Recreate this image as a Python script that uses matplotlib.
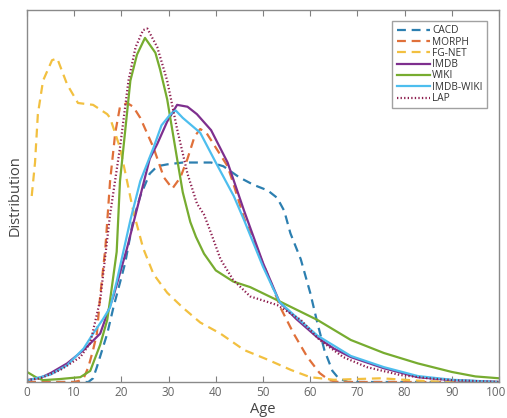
import matplotlib
matplotlib.use("Agg")
import matplotlib.pyplot as plt
import matplotlib.transforms as mtransforms

plt.rcParams['font.family'] = ['Open Sans', 'DejaVu Sans']

# ---- data ----
cacd_age = [0, 13, 14, 14.8, 17, 18.3, 20.8, 22.5, 24, 26, 27.6, 29.7, 33, 36.7, 39, 41.6, 45, 48, 51, 53, 54.5, 55.8, 58, 60, 61.5, 63, 64.7, 66, 68, 100]
cacd_val = [0, 0, 0.01, 0.04, 0.13, 0.2, 0.32, 0.435, 0.5, 0.56, 0.58, 0.585, 0.59, 0.59, 0.59, 0.58, 0.55, 0.53, 0.515, 0.495, 0.46, 0.4, 0.33, 0.24, 0.16, 0.086, 0.03, 0.01, 0, 0]

morph_age = [0, 10, 11, 12, 13, 14, 14.8, 15.5, 16.6, 17.6, 18.7, 19.7, 21.2, 22.5, 24, 26.8, 29, 30.8, 32.5, 34, 35.5, 36.7, 38, 39.5, 42.5, 43.8, 46, 48.8, 51.6, 53.7, 56.5, 59.4, 62, 64, 66, 100]
morph_val = [0, 0, 0.003, 0.01, 0.04, 0.086, 0.13, 0.23, 0.36, 0.54, 0.67, 0.74, 0.75, 0.74, 0.71, 0.63, 0.55, 0.52, 0.55, 0.6, 0.66, 0.68, 0.67, 0.64, 0.58, 0.53, 0.44, 0.355, 0.27, 0.2, 0.13, 0.067, 0.024, 0.005, 0, 0]

fgnet_age = [1, 1.7, 2.3, 3.4, 5.3, 6.4, 8.5, 10.8, 14, 17, 17.6, 19.7, 21.2, 22.5, 24.6, 26.8, 29.7, 33, 36.7, 41, 46, 51, 56, 60, 65, 70, 75, 80, 85, 90, 100]
fgnet_val = [0.5, 0.59, 0.72, 0.81, 0.865, 0.87, 0.80, 0.75, 0.745, 0.72, 0.71, 0.63, 0.54, 0.46, 0.36, 0.29, 0.24, 0.2, 0.16, 0.13, 0.086, 0.06, 0.032, 0.013, 0.006, 0.008, 0.01, 0.006, 0.002, 0, 0]

imdb_age = [0, 3, 5, 8.5, 12, 15.5, 18.3, 21.2, 24, 26, 27.6, 29.7, 31.8, 34, 36, 39, 42.5, 46, 50, 53.5, 57, 61.5, 65, 68.6, 75.6, 82.8, 90, 100]
imdb_val = [0.005, 0.012, 0.024, 0.05, 0.086, 0.13, 0.23, 0.36, 0.5, 0.6, 0.64, 0.70, 0.745, 0.74, 0.72, 0.677, 0.59, 0.46, 0.32, 0.215, 0.17, 0.12, 0.09, 0.067, 0.037, 0.013, 0.005, 0]

wiki_age = [0, 2, 3.4, 7, 11.3, 13.4, 15.5, 17, 17.6, 19, 19.7, 21.9, 23.3, 25, 27.2, 28.2, 29.7, 31.8, 33, 34.6, 35.8, 37.5, 40, 43.7, 47.3, 53, 61.5, 68.6, 75.6, 82.8, 90, 95, 100]
wiki_val = [0.027, 0.012, 0.005, 0.008, 0.013, 0.03, 0.1, 0.167, 0.22, 0.35, 0.54, 0.81, 0.88, 0.925, 0.885, 0.84, 0.76, 0.6, 0.51, 0.43, 0.39, 0.345, 0.30, 0.27, 0.255, 0.22, 0.167, 0.113, 0.078, 0.05, 0.027, 0.015, 0.01]

imdbwiki_age = [0, 5, 8.5, 12, 14, 16, 17.6, 19, 21.9, 24, 26.8, 28.5, 30.4, 31.5, 33, 36.7, 40, 43.8, 46, 50, 53.5, 57, 61.5, 68.6, 75.6, 82.8, 90, 100]
imdbwiki_val = [0.004, 0.02, 0.045, 0.09, 0.13, 0.167, 0.2, 0.27, 0.435, 0.54, 0.63, 0.69, 0.72, 0.73, 0.71, 0.67, 0.59, 0.50, 0.435, 0.31, 0.215, 0.175, 0.125, 0.07, 0.04, 0.016, 0.006, 0]

lap_age = [0, 2.8, 7, 11.3, 13.4, 15.5, 17.6, 19.7, 21.5, 23, 24.6, 25.5, 27.6, 29.7, 31.8, 34, 36, 37.5, 39, 41, 43.7, 47.3, 53, 58, 62, 67, 72, 79, 85, 90, 100]
lap_val = [0.005, 0.01, 0.032, 0.067, 0.105, 0.22, 0.45, 0.63, 0.81, 0.9, 0.946, 0.95, 0.9, 0.81, 0.68, 0.56, 0.48, 0.45, 0.40, 0.33, 0.274, 0.23, 0.207, 0.167, 0.113, 0.067, 0.04, 0.019, 0.01, 0.005, 0]

labels = ['CACD', 'MORPH', 'FG-NET', 'IMDB', 'WIKI', 'IMDB-WIKI', 'LAP']
xticks = [0, 10, 20, 30, 40, 50, 60, 70, 80, 90, 100]

series = [(cacd_age, cacd_val), (morph_age, morph_val), (fgnet_age, fgnet_val),
          (imdb_age, imdb_val), (wiki_age, wiki_val), (imdbwiki_age, imdbwiki_val),
          (lap_age, lap_val)]
colors = ['#2C7FB0', '#E0703A', '#F2C040', '#7E2F8E', '#77AC30', '#4DBEEE', '#8E1F4F']
dash = (0, (4, 2.6))
styles = [dash, dash, dash, '-', '-', '-', (0, (0.6, 1.0))]

fig = plt.figure(figsize=(5.07, 4.18), dpi=100)
ax = fig.add_axes([27/507, 1-382/418, (499-27)/507, (382-10)/418])

for (a, v), lab, c, ls in zip(series, labels, colors, styles):
    ax.plot(a, v, color=c, linestyle=ls, linewidth=1.6, label=lab)

ax.set_xlim(0, 100)
ax.set_ylim(0, 1.0)
ax.set_xticks(xticks)
ax.set_xticklabels([str(t) for t in xticks])
ax.set_yticks([])
ax.tick_params(axis='x', direction='in', length=4, top=True, bottom=True,
               color='#808080', labelcolor='#666666', labelsize=8.5, pad=3)
for s in ax.spines.values():
    s.set_color('#8a8a8a')
    s.set_linewidth(1.0)

# nudge the last tick label so it stays inside the canvas
last = ax.get_xticklabels()[-1]
last.set_transform(last.get_transform() + mtransforms.ScaledTranslation(-3/100, 0, fig.dpi_scale_trans))

ax.set_xlabel('Age', fontsize=10.5, color='#444444', labelpad=2)
ax.set_ylabel('Distribution', fontsize=10.5, color='#444444', labelpad=3)

leg = ax.legend(loc='upper right', bbox_to_anchor=(0.985, 0.984), fontsize=7.3,
                frameon=True, fancybox=False, edgecolor='#8a8a8a', handlelength=3.3,
                handletextpad=0.2, labelspacing=0.03, borderpad=0.42, labelcolor='#333333')
leg.get_frame().set_linewidth(1.0)

fig.savefig('out.png', dpi=100)
